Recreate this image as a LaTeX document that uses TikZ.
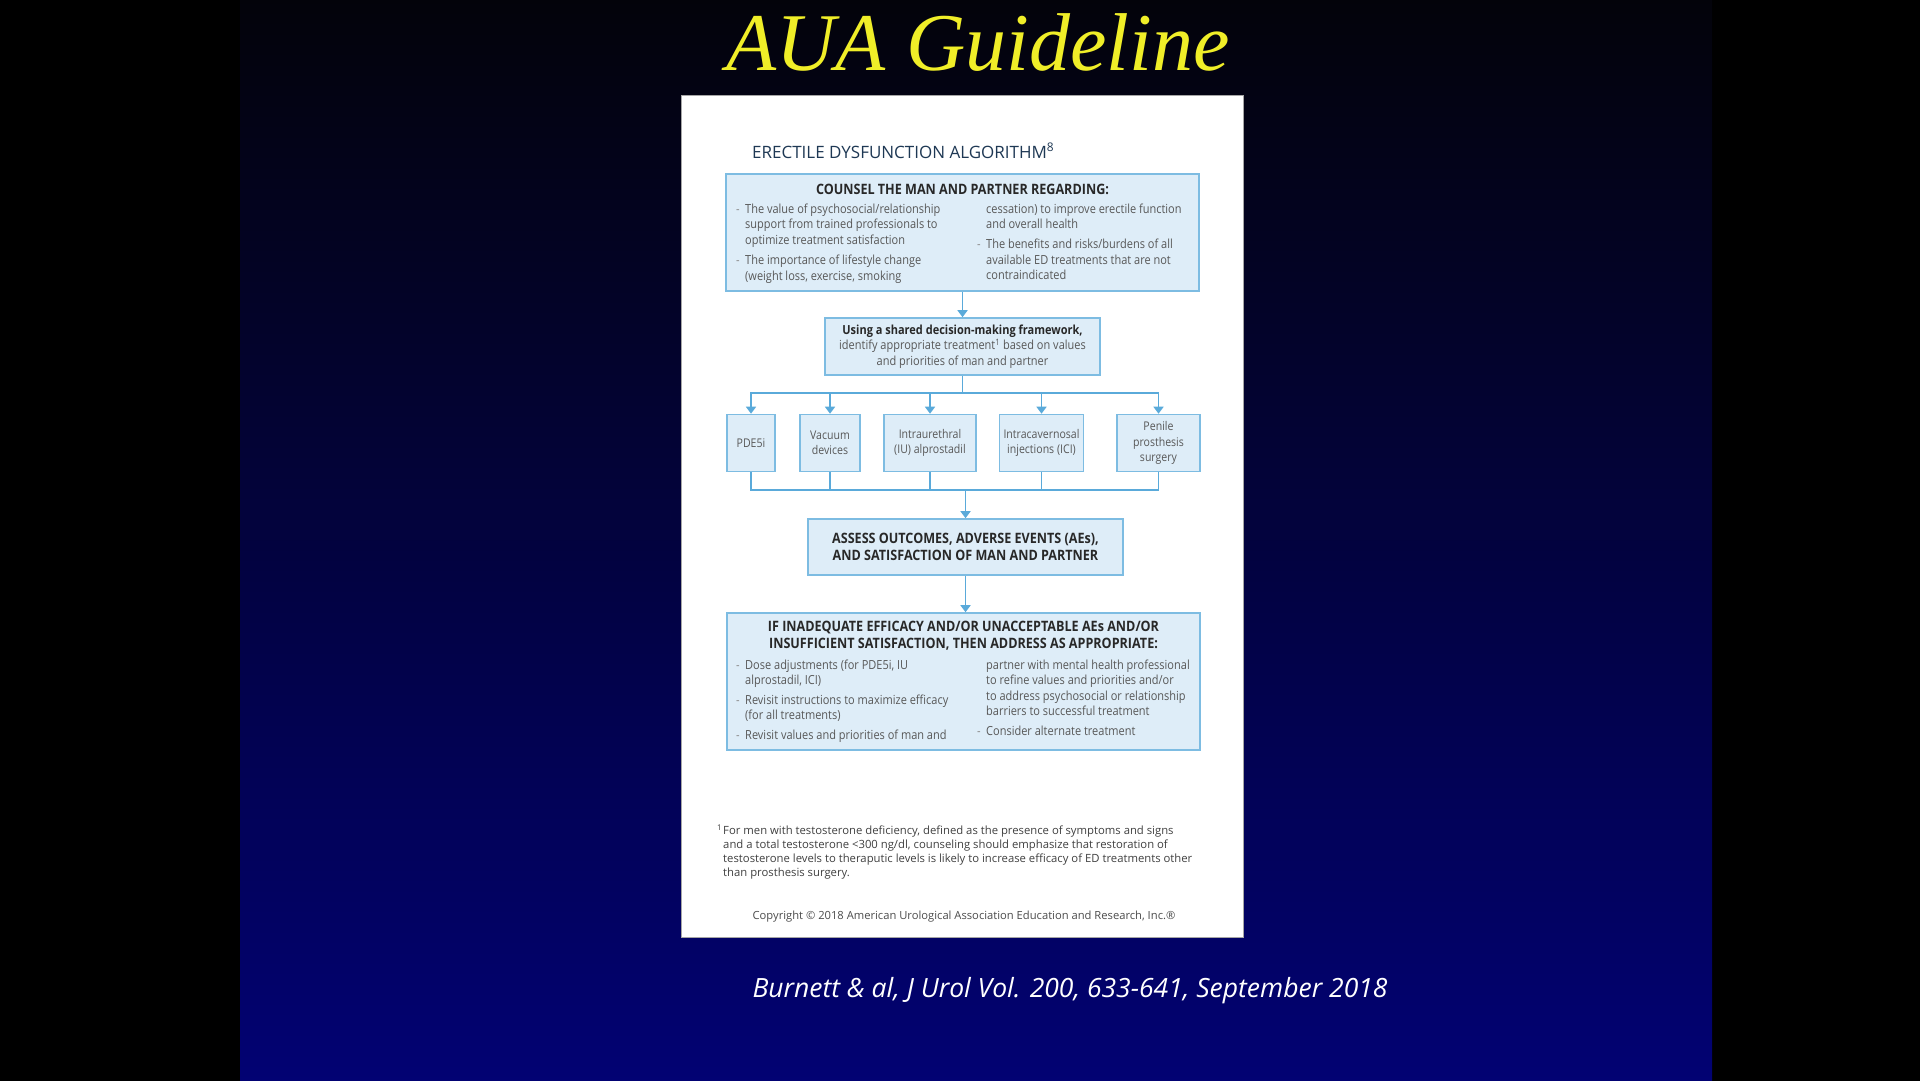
\documentclass[tikz,border=0pt]{standalone}
\usepackage{fontspec}
\setmainfont{Open Sans}
\newfontfamily\frut[FakeStretch=0.88]{Open Sans}
\newfontfamily\frutb[FakeStretch=0.88]{Open Sans}
\newfontfamily\plainsans{Open Sans}
\newfontfamily\serifit{Liberation Serif}
\usetikzlibrary{arrows.meta}
\definecolor{bxfill}{RGB}{222,237,248}
\definecolor{bxline}{RGB}{125,188,226}
\definecolor{arrc}{RGB}{90,170,218}
\definecolor{hdrc}{RGB}{40,40,40}
\definecolor{bodyc}{RGB}{88,88,88}
\definecolor{dashc}{RGB}{140,140,140}
\definecolor{ttlc}{RGB}{30,56,84}
\definecolor{yel}{RGB}{240,238,40}
\definecolor{bgtop}{RGB}{3,3,10}
\definecolor{bgmid}{RGB}{5,5,68}
\definecolor{bgbot}{RGB}{2,2,115}
\tikzset{
  box/.style={draw=bxline, fill=bxfill, line width=1.6pt, inner sep=0pt,
    font=\frut\fontsize{12.5}{15.5}\selectfont, text=bodyc, align=center},
  treat/.style={box, minimum height=57pt, font=\frut\fontsize{12}{15.5}\selectfont},
  hdrtext/.style={font=\frutb\bfseries\fontsize{14.3}{17}\selectfont, text=hdrc, align=center, inner sep=0pt},
  listtext/.style={font=\frut\fontsize{12.5}{15.5}\selectfont, text=bodyc, inner sep=0pt, anchor=base west},
  conn/.style={draw=arrc, line width=1.6pt},
  arrowc/.style={conn, -{Triangle[width=10pt,length=7pt]}},
}
\newcommand{\dsh}{\textcolor{dashc}{-}}
\begin{document}
\begin{tikzpicture}[x=1pt,y=-1pt]
\useasboundingbox (0,0) rectangle (1920,1080);
\fill[black] (-2,-2) rectangle (1922,1082);
\shade[top color=bgtop, middle color=bgmid, bottom color=bgbot] (240,-2) rectangle (1712,1082);

% title
\node[anchor=base, inner sep=0pt, text=yel, font=\serifit\itshape\fontsize{82}{90}\selectfont] (title) at (978,70) {AUA Guideline};

% panel
\node[anchor=north west, fill=white, draw=black!35, line width=0.8pt, minimum width=562pt, minimum height=842pt, inner sep=0pt] (panel) at (681,95) {};

\node[anchor=base west, inner sep=0pt, text=ttlc, font=\plainsans\fontsize{17}{20}\selectfont] (algtitle) at (752,158) {ERECTILE DYSFUNCTION ALGORITHM\textsuperscript{8}};

% box 1
\node[box, minimum width=473pt, minimum height=117pt] (counsel) at (962.5,232.5) {};
\node[hdrtext] (counselhead) at (962.5,189) {COUNSEL THE MAN AND PARTNER REGARDING:};
\node[listtext] (counselL) at (736,213) {\begin{tabular}[t]{@{}p{5pt}@{\hspace{4pt}}l@{}}
\dsh & The value of psychosocial/relationship\\
 & support from trained professionals to\\
 & optimize treatment satisfaction\\[5pt]
\dsh & The importance of lifestyle change\\
 & (weight loss, exercise, smoking
\end{tabular}};
\node[listtext] (counselR) at (977,213) {\begin{tabular}[t]{@{}p{5pt}@{\hspace{4pt}}l@{}}
 & cessation) to improve erectile function\\
 & and overall health\\[4.5pt]
\dsh & The benefits and risks/burdens of all\\
 & available ED treatments that are not\\
 & contraindicated
\end{tabular}};

% box 2
\node[box, minimum width=275pt, minimum height=57pt] (shared) at (962.5,346.5)
  {\textcolor{hdrc}{\frutb\bfseries Using a shared decision-making framework,}\\
   identify appropriate treatment\textsuperscript{1} based on values\\
   and priorities of man and partner};

% treatments
\node[treat, minimum width=48pt] (pde) at (751,443) {PDE5i};
\node[treat, minimum width=60pt] (vac) at (830,443) {Vacuum\\devices};
\node[treat, minimum width=92pt] (iu) at (930,443) {Intraurethral\\(IU) alprostadil};
\node[treat, minimum width=84pt] (ici) at (1041.5,443) {Intracavernosal\\injections (ICI)};
\node[treat, minimum width=83pt] (pen) at (1158.5,443) {Penile\\prosthesis\\surgery};

% box 3
\node[box, minimum width=315pt, minimum height=56pt, font=\frutb\bfseries\fontsize{14.3}{17}\selectfont, text=hdrc] (assess) at (965.5,547)
  {ASSESS OUTCOMES, ADVERSE EVENTS (AEs),\\AND SATISFACTION OF MAN AND PARTNER};

% box 4
\node[box, minimum width=473pt, minimum height=137pt] (ifbox) at (963.5,681.5) {};
\node[hdrtext] (ifhead) at (963.5,635.5) {IF INADEQUATE EFFICACY AND/OR UNACCEPTABLE AEs AND/OR\\INSUFFICIENT SATISFACTION, THEN ADDRESS AS APPROPRIATE:};
\node[listtext] (ifL) at (736,669) {\begin{tabular}[t]{@{}p{5pt}@{\hspace{4pt}}l@{}}
\dsh & Dose adjustments (for PDE5i, IU\\
 & alprostadil, ICI)\\[4pt]
\dsh & Revisit instructions to maximize efficacy\\
 & (for all treatments)\\[4pt]
\dsh & Revisit values and priorities of man and
\end{tabular}};
\node[listtext] (ifR) at (977,669) {\begin{tabular}[t]{@{}p{5pt}@{\hspace{4pt}}l@{}}
 & partner with mental health professional\\
 & to refine values and priorities and/or\\
 & to address psychosocial or relationship\\
 & barriers to successful treatment\\[4pt]
\dsh & Consider alternate treatment
\end{tabular}};

% connectors
\coordinate (split) at (962.5,393);
\coordinate (join) at (965.5,490);
\draw[arrowc] (counsel.south) -- (shared.north);
\draw[conn] (shared.south) -- (split);
\draw[arrowc] (split) -| (pde.north);
\draw[arrowc] (split) -| (vac.north);
\draw[arrowc] (split) -| (iu.north);
\draw[arrowc] (split) -| (ici.north);
\draw[arrowc] (split) -| (pen.north);
\draw[conn] (pde.south) |- (join);
\draw[conn] (vac.south) |- (join);
\draw[conn] (iu.south) |- (join);
\draw[conn] (ici.south) |- (join);
\draw[conn] (pen.south) |- (join);
\draw[arrowc] (join) -- (assess.north);
\draw[arrowc] (assess.south) -- (assess.south |- ifbox.north);

% footnote
\node[anchor=base west, inner sep=0pt, text=black!75, font=\plainsans\fontsize{11.3}{14}\selectfont] (foot) at (717,834) {\begin{tabular}[t]{@{}l@{\hspace{1pt}}l@{}}
\textsuperscript{1} & For men with testosterone deficiency, defined as the presence of symptoms and signs\\
 & and a total testosterone <300 ng/dl, counseling should emphasize that restoration of\\
 & testosterone levels to theraputic levels is likely to increase efficacy of ED treatments other\\
 & than prosthesis surgery.
\end{tabular}};

\node[anchor=base, inner sep=0pt, text=black!70, font=\plainsans\fontsize{11.2}{14}\selectfont] (copyright) at (964,919) {Copyright © 2018 American Urological Association Education and Research, Inc.®};

% citation
\node[anchor=base, inner sep=0pt, text=white, font=\plainsans\itshape\fontsize{26.5}{30}\selectfont] (cite) at (1070,997) {Burnett \& al, J Urol Vol. 200, 633-641, September 2018};
\end{tikzpicture}
\end{document}
